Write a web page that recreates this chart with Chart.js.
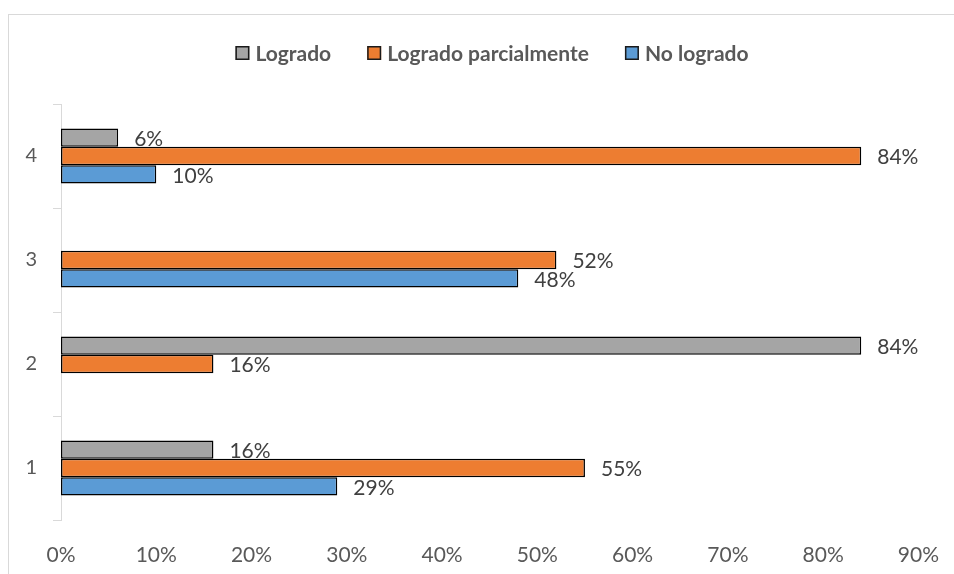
<!DOCTYPE html>
<html><head><meta charset="utf-8">
<script src="https://cdn.jsdelivr.net/npm/chart.js@4.4.0/dist/chart.umd.min.js"></script>
<style>html,body{margin:0;padding:0;background:#fff}#wrap{width:954px;height:574px;position:relative}</style>
</head><body><div id="wrap"><canvas id="c" width="954" height="574"></canvas></div>
<script>
const categories = ['1', '2', '3', '4'];
const seriesNames = ['Logrado', 'Logrado parcialmente', 'No logrado'];
const logrado = [16, 84, null, 6];
const parcial = [55, 16, 52, 84];
const noLogrado = [29, null, 48, 10];
const xTickMax = 90;
const xTickStep = 10;
const colors = ['#A5A5A5', '#ED7D31', '#5B9BD5'];

const frame = {
  id: 'frame',
  beforeDraw(chart) {
    const ctx = chart.ctx;
    ctx.save();
    ctx.fillStyle = '#fff';
    ctx.fillRect(0, 0, chart.width, chart.height);
    ctx.strokeStyle = '#d9d9d9';
    ctx.lineWidth = 1;
    ctx.strokeRect(8.5, 14.5, 1000, 1000);
    ctx.restore();
  }
};

const legendDraw = {
  id: 'legendDraw',
  afterDraw(chart) {
    const ctx = chart.ctx;
    ctx.save();
    ctx.font = 'bold 21px Lato';
    const box = 14, gapBox = 6, gapItem = 36;
    const items = chart.data.datasets.map(d => ({label: d.label, color: d.backgroundColor, w: ctx.measureText(d.label).width}));
    let total = 0;
    items.forEach((it, i) => { total += box + gapBox + it.w + (i ? gapItem : 0); });
    let x = 492 - total / 2;
    const cy = 53;
    items.forEach(it => {
      ctx.fillStyle = it.color;
      ctx.fillRect(x, cy - box / 2, box, box);
      ctx.strokeStyle = '#1a1a1a';
      ctx.lineWidth = 1.5;
      ctx.strokeRect(x + 0.75, cy - box / 2 + 0.75, box - 1.5, box - 1.5);
      ctx.fillStyle = '#595959';
      ctx.textBaseline = 'middle';
      ctx.textAlign = 'left';
      ctx.fillText(it.label, x + box + gapBox, cy + 1);
      x += box + gapBox + it.w + gapItem;
    });
    ctx.restore();
  }
};

const valueLabels = {
  id: 'valueLabels',
  afterDatasetsDraw(chart) {
    const ctx = chart.ctx;
    ctx.save();
    ctx.font = '21px Lato';
    ctx.fillStyle = '#404040';
    ctx.textBaseline = 'middle';
    ctx.textAlign = 'left';
    chart.data.datasets.forEach((ds, i) => {
      const meta = chart.getDatasetMeta(i);
      meta.data.forEach((bar, j) => {
        const v = ds.data[j];
        if (v === null || v === undefined) return;
        ctx.fillText(v + '%', bar.x + 16, bar.y + 1.5);
      });
    });
    ctx.restore();
  }
};

const mk = (label, data, color) => ({
  label, data, backgroundColor: color, borderColor: '#000', borderWidth: 1.5, borderSkipped: false,
  categoryPercentage: 0.53, barPercentage: 1
});

new Chart(document.getElementById('c'), {
  type: 'bar',
  data: {
    labels: categories,
    datasets: [
      mk(seriesNames[0], logrado, colors[0]),
      mk(seriesNames[1], parcial, colors[1]),
      mk(seriesNames[2], noLogrado, colors[2])
    ]
  },
  options: {
    indexAxis: 'y',
    responsive: false,
    devicePixelRatio: 1,
    animation: false,
    layout: {padding: {left: 0, right: 28, top: 104, bottom: 0}},
    plugins: {legend: {display: false}, tooltip: {enabled: false}},
    scales: {
      x: {
        type: 'linear', min: 0, max: xTickMax,
        grid: {display: false},
        border: {display: false},
        ticks: {stepSize: xTickStep, callback: v => v + '%', font: {family: 'Lato', size: 21}, color: '#595959', padding: 15, maxRotation: 0},
        afterFit(s) { s.height = 54; }
      },
      y: {
        type: 'category', reverse: true, offset: true,
        grid: {display: true, drawOnChartArea: false, drawTicks: true, tickLength: 8, color: '#d9d9d9', offset: true},
        border: {display: true, color: '#d9d9d9', width: 1},
        ticks: {font: {family: 'Lato', size: 20}, color: '#595959', padding: 16},
        afterFit(s) { s.width = 61; }
      }
    }
  },
  plugins: [frame, legendDraw, valueLabels]
});
</script>
</body></html>
